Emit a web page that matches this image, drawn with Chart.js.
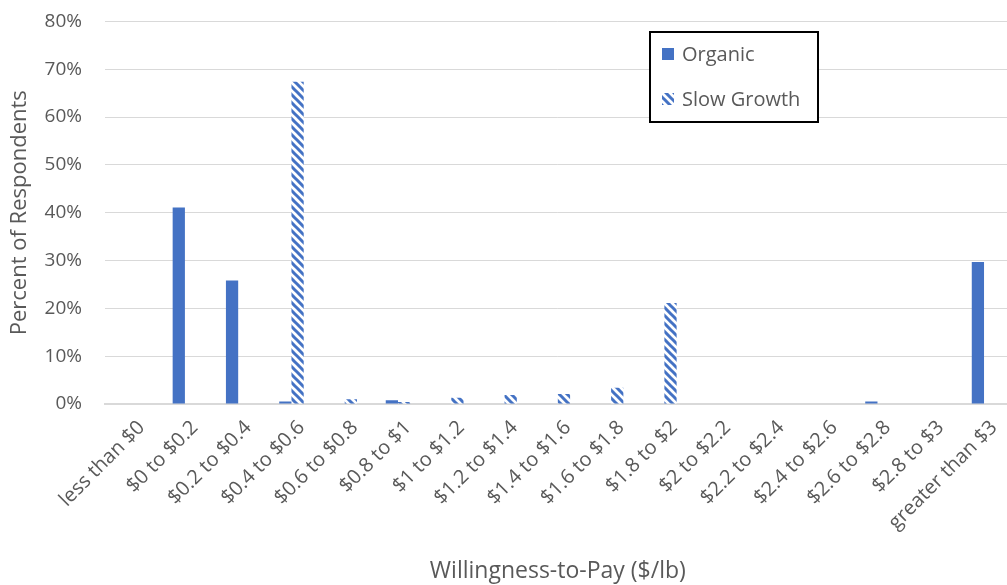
<!DOCTYPE html>
<html>
<head>
<meta charset="utf-8">
<script src="https://cdn.jsdelivr.net/npm/chart.js@4"></script>
<style>
  html, body { margin: 0; padding: 0; background: #fff; overflow: hidden; }
  #wrap { width: 1013px; height: 585px; overflow: hidden; }
  /* shift up so the 80% line lands near the top like the original */
  #wtpChart { display: block; margin-top: -13px; }
</style>
</head>
<body>
<div id="wrap"><canvas id="wtpChart" width="1013" height="598"></canvas></div>
<script>
// categories and values (percent of respondents)
const categories = ["less than $0", "$0 to $0.2", "$0.2 to $0.4", "$0.4 to $0.6", "$0.6 to $0.8",
    "$0.8 to $1", "$1 to $1.2", "$1.2 to $1.4", "$1.4 to $1.6", "$1.6 to $1.8", "$1.8 to $2",
    "$2 to $2.2", "$2.2 to $2.4", "$2.4 to $2.6", "$2.6 to $2.8", "$2.8 to $3", "greater than $3"];
const organic = [0, 41.1, 25.8, 0.5, 0, 0.8, 0, 0, 0, 0, 0.1, 0.1, 0, 0, 0.5, 0, 29.7];
const slowGrowth = [0, 0, 0, 67.4, 1.0, 0.4, 1.3, 1.9, 2.1, 3.4, 21.1, 0, 0, 0, 0, 0, 0];
const yTicks = [0, 10, 20, 30, 40, 50, 60, 70, 80];

const BLUE = '#4472C4';
const TEXT = '#595959';
const FONT = '"Open Sans", Lato, sans-serif';
const SHIFT = 13;   // canvas is moved up by this much

// diagonal stripe fill for Slow Growth
function makeStripes() {
    const c = document.createElement('canvas');
    c.width = 8; c.height = 8;
    const g = c.getContext('2d');
    g.fillStyle = '#fff';
    g.fillRect(0, 0, 8, 8);
    g.strokeStyle = BLUE;
    g.lineWidth = 3;
    g.beginPath();
    g.moveTo(-2, -2); g.lineTo(10, 10);
    g.moveTo(-6, 2); g.lineTo(2, 10);
    g.moveTo(6, -2); g.lineTo(10, 2);
    g.stroke();
    return g.createPattern(c, 'repeat');
}
const stripes = makeStripes();

// boxed legend like the original
const boxLegend = {
    id: 'boxLegend',
    afterDraw(chart) {
        const ctx = chart.ctx;
        ctx.save();
        ctx.fillStyle = '#fff';
        ctx.fillRect(650, 32 + SHIFT, 168, 90);
        ctx.strokeStyle = '#000';
        ctx.lineWidth = 2;
        ctx.strokeRect(650, 32 + SHIFT, 168, 90);
        const rows = [54, 99];
        chart.data.datasets.forEach((ds, i) => {
            const y = rows[i] + SHIFT;
            ctx.fillStyle = ds.backgroundColor;
            ctx.fillRect(662, y - 6, 12, 12);
            ctx.fillStyle = TEXT;
            ctx.font = '20px ' + FONT;
            ctx.textBaseline = 'middle';
            ctx.fillText(ds.label, 682, y + 1);
        });
        ctx.restore();
    }
};

new Chart(document.getElementById('wtpChart').getContext('2d'), {
    type: 'bar',
    data: {
        labels: categories,
        datasets: [
            { label: 'Organic', data: organic, backgroundColor: BLUE },
            { label: 'Slow Growth', data: slowGrowth, backgroundColor: stripes }
        ]
    },
    options: {
        responsive: false,
        animation: false,
        categoryPercentage: 0.46,
        barPercentage: 1,
        layout: { padding: 0 },
        plugins: { legend: { display: false }, tooltip: { enabled: false } },
        scales: {
            x: {
                grid: { display: false, drawTicks: false },
                border: { color: '#d9d9d9', width: 2 },
                ticks: {
                    color: TEXT, font: { family: FONT, size: 20 },
                    minRotation: 45, maxRotation: 45, autoSkip: false,
                    padding: 12, labelOffset: 10
                },
                title: {
                    display: true, text: 'Willingness-to-Pay ($/lb)', color: TEXT,
                    font: { family: FONT, size: 23 }, padding: { top: 0, bottom: 0 }
                },
                afterFit(scale) { scale.height = 181; }
            },
            y: {
                min: 0, max: 80,
                afterBuildTicks(scale) { scale.ticks = yTicks.map(v => ({ value: v })); },
                grid: { color: '#d9d9d9', lineWidth: 1, drawTicks: false },
                border: { display: false },
                ticks: {
                    color: TEXT, font: { family: FONT, size: 19 }, padding: 23,
                    callback: v => v + '%'
                },
                title: {
                    display: true, text: 'Percent of Respondents', color: TEXT,
                    font: { family: FONT, size: 22 }, padding: { top: 7, bottom: 4 }
                },
                afterFit(scale) { scale.width = 105; }
            }
        }
    },
    plugins: [boxLegend]
});
</script>
</body>
</html>
